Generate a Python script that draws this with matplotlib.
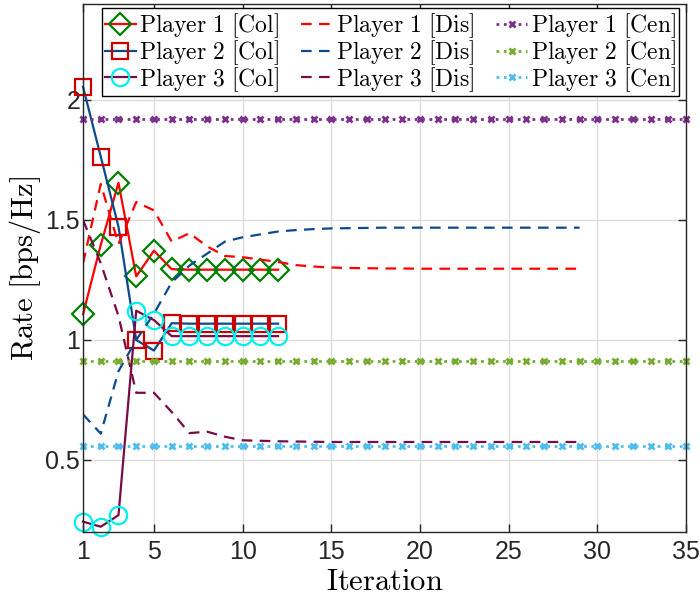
import matplotlib
matplotlib.use("Agg")
import matplotlib.pyplot as plt

# iterations
iter_col = [1, 2, 3, 4, 5, 6, 7, 8, 9, 10, 11, 12]
iter_dis = list(range(1, 30))
iter_cen = list(range(1, 36))

# collaborative scheme
p1_col = [1.107, 1.396, 1.655, 1.265, 1.372, 1.295, 1.293, 1.293, 1.293, 1.293, 1.293, 1.293]
p2_col = [2.055, 1.764, 1.472, 1.000, 0.956, 1.070, 1.068, 1.068, 1.068, 1.068, 1.068, 1.068]
p3_col = [0.243, 0.222, 0.270, 1.122, 1.083, 1.016, 1.016, 1.016, 1.016, 1.016, 1.016, 1.016]

# distributed scheme
p1_dis = [1.32, 1.65, 1.40, 1.575, 1.54, 1.41, 1.445, 1.39, 1.35, 1.345,
          1.335, 1.325, 1.312, 1.306, 1.302, 1.300, 1.299, 1.298, 1.298, 1.297,
          1.297, 1.297, 1.297, 1.297, 1.297, 1.297, 1.297, 1.297, 1.297]
p2_dis = [0.69, 0.61, 0.87, 1.00, 1.11, 1.24, 1.31, 1.36, 1.41, 1.428,
          1.44, 1.452, 1.458, 1.462, 1.465, 1.466, 1.467, 1.468, 1.468, 1.468,
          1.468, 1.468, 1.468, 1.468, 1.468, 1.468, 1.468, 1.468, 1.468]
p3_dis = [1.50, 1.32, 1.10, 0.78, 0.78, 0.70, 0.612, 0.618, 0.597, 0.582,
          0.580, 0.578, 0.577, 0.576, 0.575, 0.575, 0.575, 0.575, 0.575, 0.575,
          0.575, 0.575, 0.575, 0.575, 0.575, 0.575, 0.575, 0.575, 0.575]

# centralized scheme (constant)
p1_cen = [1.922] * 35
p2_cen = [0.912] * 35
p3_cen = [0.558] * 35

x_ticks = [1, 5, 10, 15, 20, 25, 30, 35]
y_ticks = [0.5, 1, 1.5, 2]
y_tick_labels = ["0.5", "1", "1.5", "2"]

plt.rcParams['mathtext.fontset'] = 'cm'
plt.rcParams['font.family'] = ['Liberation Sans', 'DejaVu Sans']

red = (1, 0, 0)
blue = '#0b4a8c'
maroon = '#7a0a45'
dgreen = '#008000'
sq_red = '#cc0000'
cyan = '#00f0f0'
purple = (0.494, 0.184, 0.556)
lgreen = (0.466, 0.674, 0.188)
lblue = (0.301, 0.745, 0.933)

fig = plt.figure(figsize=(7, 5.97), dpi=100)
ax = fig.add_axes([0.1186, 0.1089, 0.8614, 0.8844])

dash = (0, (4.8, 3.3))

ax.plot(iter_col, p1_col, color=red, lw=1.6, marker='D', markeredgecolor=dgreen,
        markersize=11.5, markerfacecolor='none', markeredgewidth=1.6, clip_on=False,
        label=r'$\mathrm{Player\ 1\ [Col]}$')
ax.plot(iter_col, p2_col, color=blue, lw=1.6, marker='s', markeredgecolor=sq_red,
        markersize=12, markerfacecolor='none', markeredgewidth=1.6, clip_on=False,
        label=r'$\mathrm{Player\ 2\ [Col]}$')
ax.plot(iter_col, p3_col, color=maroon, lw=1.6, marker='o', markeredgecolor=cyan,
        markersize=12.5, markerfacecolor='none', markeredgewidth=1.6, clip_on=False,
        label=r'$\mathrm{Player\ 3\ [Col]}$')

ax.plot(iter_dis, p1_dis, color=red, lw=1.6, linestyle=dash, label=r'$\mathrm{Player\ 1\ [Dis]}$')
ax.plot(iter_dis, p2_dis, color=blue, lw=1.6, linestyle=dash, label=r'$\mathrm{Player\ 2\ [Dis]}$')
ax.plot(iter_dis, p3_dis, color=maroon, lw=1.6, linestyle=dash, label=r'$\mathrm{Player\ 3\ [Dis]}$')

cen = dict(lw=2, linestyle=':', marker='x', markersize=4.5, markeredgewidth=2, clip_on=False)
ax.plot(iter_cen, p1_cen, color=purple, label=r'$\mathrm{Player\ 1\ [Cen]}$', **cen)
ax.plot(iter_cen, p2_cen, color=lgreen, label=r'$\mathrm{Player\ 2\ [Cen]}$', **cen)
ax.plot(iter_cen, p3_cen, color=lblue, label=r'$\mathrm{Player\ 3\ [Cen]}$', **cen)

ax.set_xlim(1, 35)
ax.set_ylim(0.2, 2.4)
ax.set_xticks(x_ticks)
ax.set_yticks(y_ticks)
ax.set_yticklabels(y_tick_labels)
ax.grid(True, color='#dcdcdc', lw=1)
ax.tick_params(direction='in', length=6, width=1, top=True, right=True,
               labelsize=18, colors='#262626', pad=6)
ax.tick_params(axis='y', pad=2)
for s in ax.spines.values():
    s.set_color('#262626')
    s.set_linewidth(1)

ax.set_xlabel(r'$\mathrm{Iteration}$', fontsize=22, labelpad=2)
ax.set_ylabel(r'$\mathrm{Rate\ [bps/Hz]}$', fontsize=22, labelpad=2)

leg = ax.legend(ncol=3, loc='upper left', bbox_to_anchor=(0.0315, 0.992),
                borderaxespad=0, fontsize=17, handlelength=1.3, handletextpad=0.15,
                columnspacing=0.95, labelspacing=-0.08, borderpad=0.12,
                fancybox=False, framealpha=1, edgecolor='black')
leg.set_zorder(5)
leg.get_frame().set_linewidth(1)

fig.savefig('out.png', dpi=100)
